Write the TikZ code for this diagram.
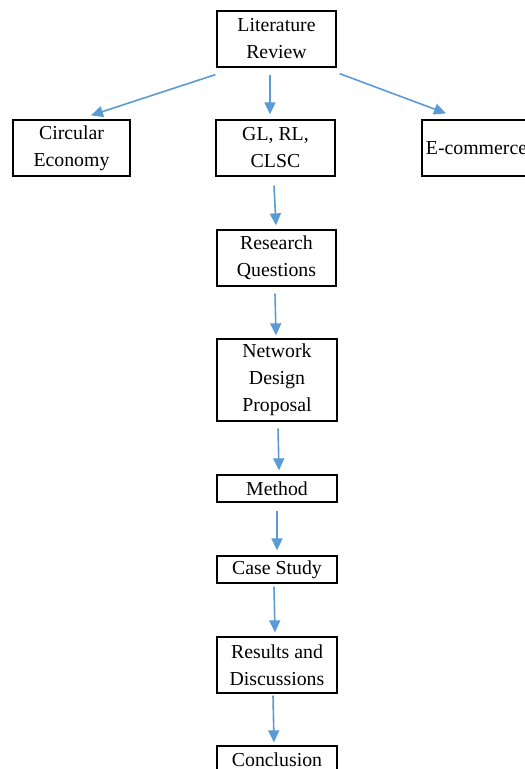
\documentclass[tikz,border=0pt]{standalone}
\usepackage{fontspec}
\setmainfont{Liberation Serif}
\usetikzlibrary{arrows.meta,calc}
\definecolor{arrowblue}{HTML}{5B9BD5}
\tikzset{
  box/.style={draw=black, line width=1.3pt, align=center, inner sep=0pt,
    font=\fontsize{19.8}{27}\selectfont, text=black},
  conn/.style={draw=arrowblue, line width=1.6pt, -{Triangle[length=12pt,width=11pt]}}
}
\begin{document}
\begin{tikzpicture}[x=1pt,y=-1pt]
\clip (0,0) rectangle (525,769);
\fill[white] (0,0) rectangle (525,769);
\node[box, minimum width=119pt, minimum height=56pt] (LR) at (276.5,39) {Literature\\Review};
\node[box, minimum width=117pt, minimum height=56pt] (CE) at (71.5,148) {Circular\\Economy};
\node[box, minimum width=119pt, minimum height=56pt] (GL) at (275.5,148) {GL, RL,\\CLSC};
\node[box, minimum width=109pt, minimum height=56pt] (EC) at (476.5,148) {E-commerce};
\node[box, minimum width=119pt, minimum height=56pt] (RQ) at (276.5,258) {Research\\Questions};
\node[box, minimum width=120pt, minimum height=82pt] (NDP) at (277,380) {Network\\Design\\Proposal};
\node[box, minimum width=120pt, minimum height=27pt] (M) at (277,488.5) {Method};
\node[box, minimum width=120pt, minimum height=27pt] (CS) at (277,569.5) {Case Study};
\node[box, minimum width=120pt, minimum height=56pt] (RD) at (277,665) {Results and\\Discussions};
\node[box, minimum width=120pt, minimum height=27pt] (C) at (277,759.5) {Conclusion};

\draw[conn] ($(LR.south west)+(-1,7)$) -- ($(CE.north)+(19.5,-4)$);
\draw[conn] ($(LR.south)+(-6.5,7)$) -- ($(GL.north)+(-5.5,-5)$);
\draw[conn] ($(LR.south east)+(3,6)$) -- ($(EC.north)+(-30.5,-6)$);
\draw[conn] ($(GL.south)+(-1.5,9)$) -- ($(RQ.north)+(-0.5,-4)$);
\draw[conn] ($(RQ.south)+(-1.5,7)$) -- ($(NDP.north)+(-1,-3)$);
\draw[conn] ($(NDP.south)+(1,7)$) -- ($(M.north)+(2,-4)$);
\draw[conn] ($(M.south)+(0,8)$) -- ($(CS.north)+(0,-5)$);
\draw[conn] ($(CS.south)+(-3,3)$) -- ($(RD.north)+(-2,-4)$);
\draw[conn] ($(RD.south)+(-4,2)$) -- ($(C.north)+(-3,-3)$);
\end{tikzpicture}
\end{document}
